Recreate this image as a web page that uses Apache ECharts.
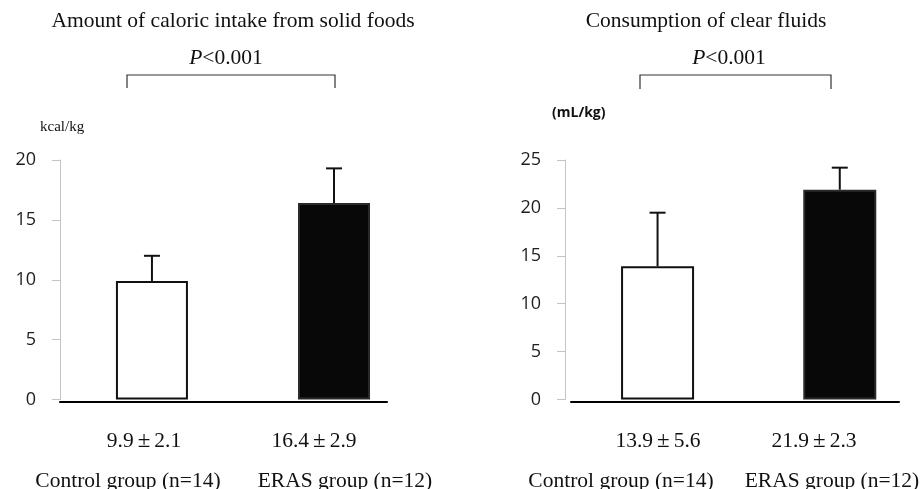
<!DOCTYPE html>
<html>
<head>
<meta charset="utf-8">
<script src="https://cdn.jsdelivr.net/npm/echarts@6/dist/echarts.min.js"></script>
<style>
  html, body { margin: 0; padding: 0; background: #ffffff; }
  #chart { width: 923px; height: 489px; }
</style>
</head>
<body>
<div id="chart"></div>
<script>
// Groups compared in both panels
const groups = ['Control group (n=14)', 'ERAS group (n=12)'];

// Panel 1: caloric intake from solid foods (kcal/kg), mean and SD
const caloricMeans = [9.9, 16.4];
const caloricSD = [2.1, 2.9];

// Panel 2: consumption of clear fluids (mL/kg), mean and SD
const fluidMeans = [13.9, 21.9];
const fluidSD = [5.6, 2.3];

// Axis ranges and tick step for each panel
const caloricAxis = { min: 0, max: 20, interval: 5 };
const fluidAxis = { min: 0, max: 25, interval: 5 };

const titles = ['Amount of caloric intake from solid foods', 'Consumption of clear fluids'];
const units = ['kcal/kg', '(mL/kg)'];
const pValue = '<0.001';

const barFills = ['#ffffff', '#080808'];
const barBorders = ['#111111', '#2a2a2a'];

const serif = '"Liberation Serif", "Times New Roman", serif';
const sans = '"Open Sans", "Liberation Sans", sans-serif';

function barData(means) {
  return means.map((m, i) => ({
    value: [i, m],
    itemStyle: { color: barFills[i], borderColor: barBorders[i], borderWidth: 2 }
  }));
}

function errData(means, sds) {
  return means.map((m, i) => [i, m, sds[i]]);
}

function renderError(params, api) {
  const x = api.value(0), m = api.value(1), s = api.value(2);
  const base = api.coord([x, m]);
  const top = api.coord([x, m + s]);
  const hw = 8;
  const st = { stroke: '#111111', lineWidth: 2 };
  return {
    type: 'group',
    children: [
      { type: 'line', shape: { x1: base[0], y1: base[1], x2: top[0], y2: top[1] }, style: st },
      { type: 'line', shape: { x1: top[0] - hw, y1: top[1], x2: top[0] + hw, y2: top[1] }, style: st }
    ]
  };
}

function yAxisFor(range, gridIndex, offset) {
  return {
    type: 'value', gridIndex: gridIndex,
    min: range.min, max: range.max, interval: range.interval,
    offset: offset,
    axisLine: { show: true, onZero: false, lineStyle: { color: '#c4c4c4', width: 1 } },
    axisTick: { show: true, inside: false, length: 8, lineStyle: { color: '#c4c4c4' } },
    axisLabel: { margin: 24, color: '#1e1e1e', fontFamily: sans, fontSize: 18 },
    splitLine: { show: false }
  };
}

function xAxisFor(gridIndex, min, max) {
  return {
    type: 'value', gridIndex: gridIndex, min: min, max: max,
    offset: 2,
    axisLine: { show: true, onZero: false, lineStyle: { color: '#000000', width: 2 } },
    axisTick: { show: false }, axisLabel: { show: false }, splitLine: { show: false }
  };
}

function meanText(m, s) {
  return '{n|' + m.toFixed(1) + '}{pm|±}{n|' + s.toFixed(1) + '}';
}

function txt(x, y, text, size, extra) {
  return {
    type: 'text', x: x, y: y, silent: true,
    style: Object.assign({
      text: text, fill: '#111111', font: size + 'px ' + serif,
      align: 'center', verticalAlign: 'middle'
    }, extra || {})
  };
}

function richMean(x, y, m, s) {
  return {
    type: 'text', x: x, y: y, silent: true,
    style: {
      text: meanText(m, s), align: 'center', verticalAlign: 'middle',
      rich: {
        n: { fontFamily: serif, fontSize: 21.5, fill: '#111111' },
        pm: { fontFamily: serif, fontSize: 23, fill: '#111111', padding: [0, 4] }
      }
    }
  };
}

function pText(x, y) {
  return {
    type: 'text', x: x, y: y, silent: true,
    style: {
      text: '{i|P}{r|' + pValue + '}', align: 'center', verticalAlign: 'middle',
      rich: {
        i: { fontFamily: serif, fontStyle: 'italic', fontSize: 21.5, fill: '#111111' },
        r: { fontFamily: serif, fontSize: 21.5, fill: '#111111' }
      }
    }
  };
}

function bracket(x1, x2, yTop, yBot) {
  return {
    type: 'polyline', silent: true,
    shape: { points: [[x1, yBot], [x1, yTop], [x2, yTop], [x2, yBot]] },
    style: { stroke: '#333333', lineWidth: 1.2, fill: null }
  };
}

const chart = echarts.init(document.getElementById('chart'), null, { renderer: 'canvas' });

const option = {
  backgroundColor: '#ffffff',
  animation: false,
  grid: [
    { left: 60, top: 160, width: 327, height: 239.5 },
    { left: 571, top: 160, width: 328, height: 239.5 }
  ],
  xAxis: [xAxisFor(0, -0.505, 1.291), xAxisFor(1, -0.475, 1.325)],
  yAxis: [yAxisFor(caloricAxis, 0, 0), yAxisFor(fluidAxis, 1, 6)],
  series: [
    { type: 'bar', xAxisIndex: 0, yAxisIndex: 0, barWidth: 72, data: barData(caloricMeans) },
    { type: 'custom', xAxisIndex: 0, yAxisIndex: 0, renderItem: renderError, data: errData(caloricMeans, caloricSD), z: 3 },
    { type: 'bar', xAxisIndex: 1, yAxisIndex: 1, barWidth: 73, data: barData(fluidMeans) },
    { type: 'custom', xAxisIndex: 1, yAxisIndex: 1, renderItem: renderError, data: errData(fluidMeans, fluidSD), z: 3 }
  ],
  graphic: [
    txt(233, 21, titles[0], 21.5),
    txt(706, 21, titles[1], 21.5),
    pText(226, 58),
    pText(729, 58),
    bracket(127, 335, 75, 88),
    bracket(640, 831, 75, 89),
    txt(40, 127, units[0], 15, { align: 'left' }),
    txt(552, 113, units[1], 14, { align: 'left', font: 'bold 14px ' + sans }),
    richMean(144, 441, caloricMeans[0], caloricSD[0]),
    richMean(314, 441, caloricMeans[1], caloricSD[1]),
    richMean(658, 441, fluidMeans[0], fluidSD[0]),
    richMean(814, 441, fluidMeans[1], fluidSD[1]),
    txt(128, 481, groups[0], 21.5),
    txt(345, 481, groups[1], 21.5),
    txt(621, 481, groups[0], 21.5),
    txt(832, 481, groups[1], 21.5)
  ]
};

chart.setOption(option);
</script>
</body>
</html>
